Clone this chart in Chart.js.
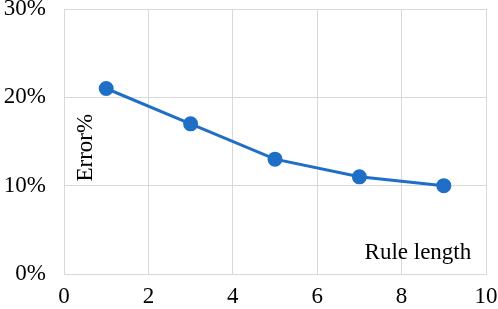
<!DOCTYPE html>
<html>
<head>
<meta charset="utf-8">
<script src="https://cdn.jsdelivr.net/npm/chart.js@4/dist/chart.umd.min.js"></script>
<style>
  html, body { margin: 0; padding: 0; background: #fff; }
  #wrap { width: 498px; height: 309px; }
</style>
</head>
<body>
<div id="wrap"><canvas id="errChart"></canvas></div>
<script>
// rule length vs error
var ruleLength = [1, 3, 5, 7, 9];
var errorPct = [21, 17, 13, 11, 10];
var xTicks = [0, 2, 4, 6, 8, 10];
var yTicks = [0, 10, 20, 30];

var serif = "'Liberation Serif', 'Times New Roman', serif";
var gridColor = '#d9d9d9';

// axis titles sit inside the plot area in the original
var innerTitles = {
  id: 'innerTitles',
  afterDraw: function(chart) {
    var ctx = chart.ctx;
    var x = chart.scales.x, y = chart.scales.y;
    ctx.save();
    ctx.fillStyle = '#000';
    ctx.font = '23px ' + serif;
    ctx.textAlign = 'right';
    ctx.textBaseline = 'middle';
    ctx.fillText('Rule length', x.getPixelForValue(9.65), y.getPixelForValue(2.4));
    ctx.translate(x.getPixelForValue(0.52), y.getPixelForValue(14.3));
    ctx.rotate(-Math.PI / 2);
    ctx.textAlign = 'center';
    ctx.fillText('Error%', 0, 0);
    ctx.restore();
  }
};

new Chart(document.getElementById('errChart'), {
  type: 'line',
  data: {
    datasets: [{
      data: ruleLength.map(function(v, i) { return { x: v, y: errorPct[i] }; }),
      borderColor: '#1f6fc6',
      backgroundColor: '#1f6fc6',
      borderWidth: 3,
      pointRadius: 6,
      pointHoverRadius: 6,
      tension: 0
    }]
  },
  options: {
    responsive: true,
    maintainAspectRatio: false,
    animation: false,
    layout: { padding: 0 },
    plugins: { legend: { display: false }, tooltip: { enabled: false } },
    scales: {
      x: {
        type: 'linear',
        min: 0, max: 10,
        afterBuildTicks: function(s) { s.ticks = xTicks.map(function(v) { return { value: v }; }); },
        afterFit: function(s) {
          s.height = 35;
          s.paddingLeft = 0;
          s.paddingRight = 12;
        },
        grid: { color: gridColor, drawTicks: false },
        border: { color: gridColor },
        ticks: { color: '#000', font: { family: serif, size: 23 }, padding: 9 }
      },
      y: {
        min: 0, max: 30,
        afterBuildTicks: function(s) { s.ticks = yTicks.map(function(v) { return { value: v }; }); },
        afterFit: function(s) {
          s.width = 64;
          s.paddingTop = 9;
          s.paddingBottom = 0;
        },
        grid: { color: gridColor, drawTicks: false },
        border: { color: gridColor },
        ticks: {
          color: '#000', font: { family: serif, size: 23 }, padding: 18,
          callback: function(v) { return v + '%'; }
        }
      }
    }
  },
  plugins: [innerTitles]
});
</script>
</body>
</html>
